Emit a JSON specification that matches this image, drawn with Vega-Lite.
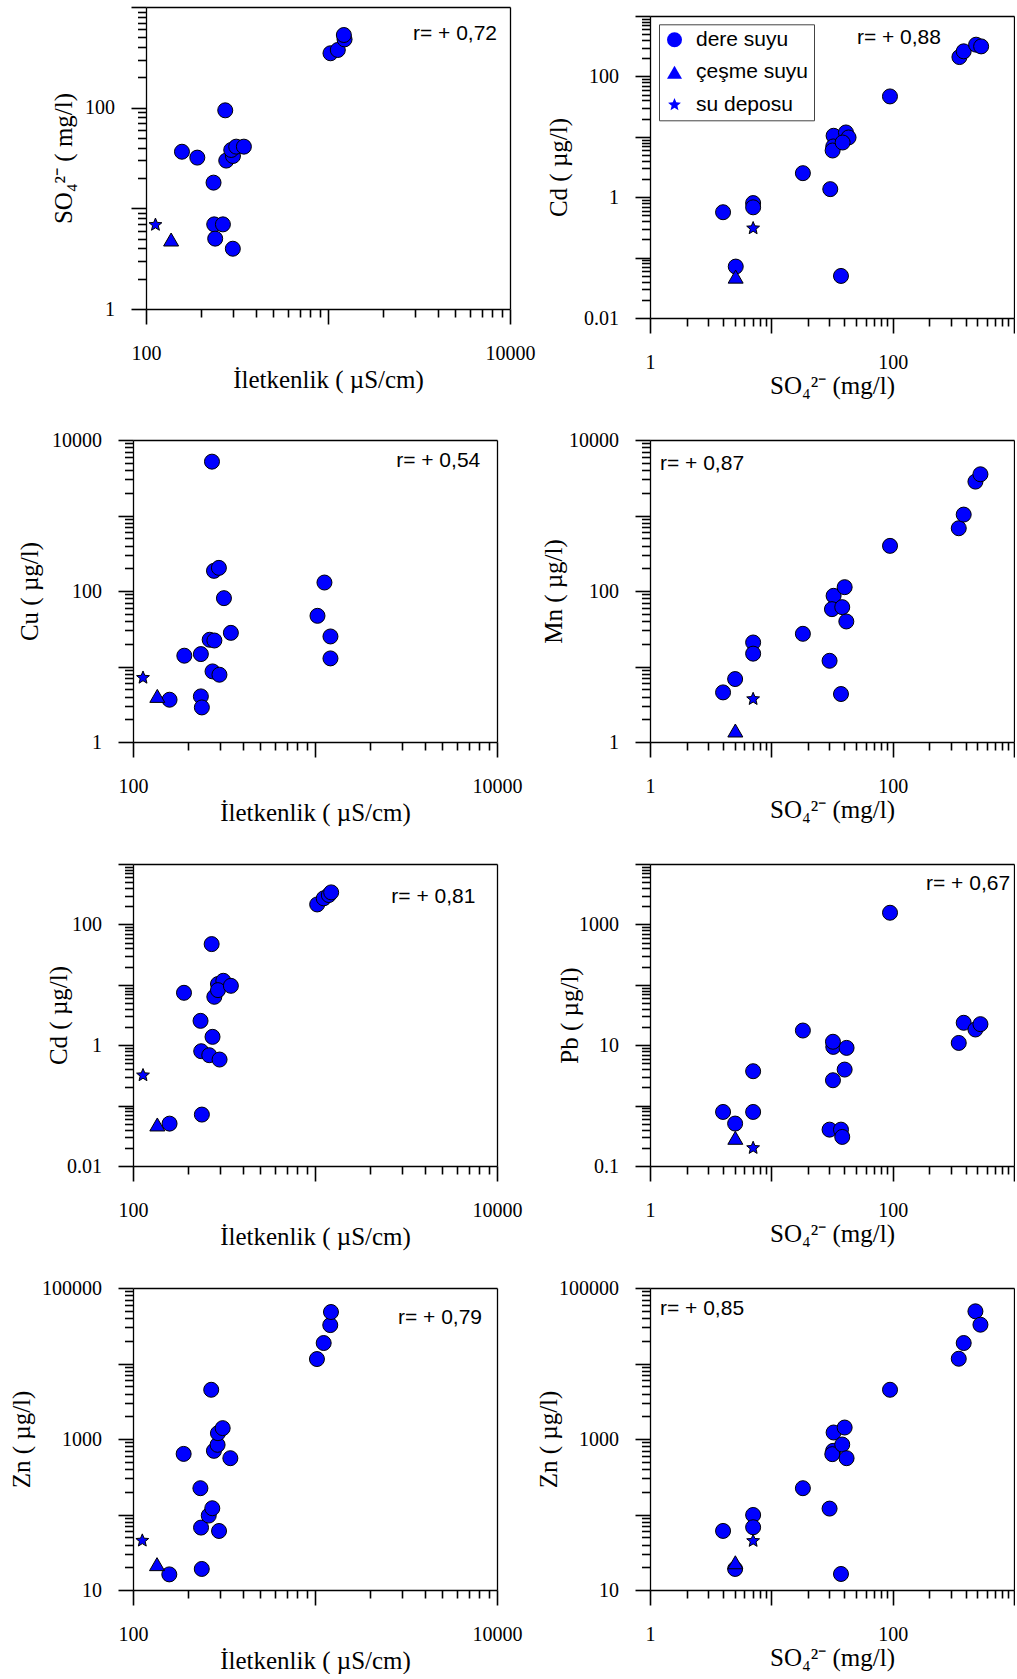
{
"$schema": "https://vega.github.io/schema/vega-lite/v6.json",
"background": "white",
"padding": {"left": 9, "top": 6, "right": 0, "bottom": 0},
"columns": 2,
"spacing": {"row": 122, "column": 140},
"bounds": "flush",
"align": "each",
"resolve": {"scale": {"shape": "independent"}, "legend": {"shape": "independent"}},
"config": {
 "view": {"stroke": null},
 "axis": {"grid": false, "domainColor": "black", "domainWidth": 1.3, "tickColor": "black", "tickWidth": 1.6, "labelFont": "Liberation Serif", "labelFontSize": 20, "labelColor": "black", "titleFont": "Liberation Serif", "titleFontSize": 25, "titleFontWeight": "normal", "titleColor": "black", "labelFlush": false, "labelOverlap": false}
},
"datasets": {
 "pts": [
  {"panel":1,"type":"dere suyu","x":157.6,"y":36.5},{"panel":1,"type":"dere suyu","x":191.4,"y":31.9},{"panel":1,"type":"dere suyu","x":235,"y":18.0},{"panel":1,"type":"dere suyu","x":272.5,"y":94.1},{"panel":1,"type":"dere suyu","x":237,"y":6.93},{"panel":1,"type":"dere suyu","x":264.6,"y":6.93},{"panel":1,"type":"dere suyu","x":240,"y":5.0},{"panel":1,"type":"dere suyu","x":300,"y":3.97},{"panel":1,"type":"dere suyu","x":276,"y":29.8},{"panel":1,"type":"dere suyu","x":300.5,"y":33.1},{"panel":1,"type":"dere suyu","x":294,"y":38.0},{"panel":1,"type":"dere suyu","x":313,"y":41.0},{"panel":1,"type":"dere suyu","x":345,"y":41.0},{"panel":1,"type":"dere suyu","x":1032,"y":347},{"panel":1,"type":"dere suyu","x":1132,"y":374},{"panel":1,"type":"dere suyu","x":1233,"y":477},{"panel":1,"type":"dere suyu","x":1222,"y":527},
  {"panel":1,"type":"çeşme suyu","x":137.4,"y":4.9},{"panel":1,"type":"su deposu","x":112.7,"y":6.86},
  {"panel":2,"type":"dere suyu","x":4.0,"y":0.564},{"panel":2,"type":"dere suyu","x":5.09,"y":0.071},{"panel":2,"type":"dere suyu","x":7.08,"y":0.80},{"panel":2,"type":"dere suyu","x":7.08,"y":0.68},{"panel":2,"type":"dere suyu","x":18.2,"y":2.5},{"panel":2,"type":"dere suyu","x":30.6,"y":1.36},{"panel":2,"type":"dere suyu","x":37.5,"y":0.0497},{"panel":2,"type":"dere suyu","x":32.6,"y":10.4},{"panel":2,"type":"dere suyu","x":41.2,"y":11.8},{"panel":2,"type":"dere suyu","x":43.3,"y":9.75},{"panel":2,"type":"dere suyu","x":32.4,"y":6.92},{"panel":2,"type":"dere suyu","x":32.0,"y":5.93},{"panel":2,"type":"dere suyu","x":38.7,"y":8.05},{"panel":2,"type":"dere suyu","x":95,"y":46.6},{"panel":2,"type":"dere suyu","x":355,"y":209},{"panel":2,"type":"dere suyu","x":385,"y":260},{"panel":2,"type":"dere suyu","x":487,"y":335},{"panel":2,"type":"dere suyu","x":536,"y":314},
  {"panel":2,"type":"çeşme suyu","x":5.08,"y":0.0484},{"panel":2,"type":"su deposu","x":7.08,"y":0.306},
  {"panel":3,"type":"dere suyu","x":158.8,"y":3.63},{"panel":3,"type":"dere suyu","x":191.4,"y":13.9},{"panel":3,"type":"dere suyu","x":236,"y":14.6},{"panel":3,"type":"dere suyu","x":236,"y":4.02},{"panel":3,"type":"dere suyu","x":239,"y":2.87},{"panel":3,"type":"dere suyu","x":271.6,"y":5168},{"panel":3,"type":"dere suyu","x":278.6,"y":184.9},{"panel":3,"type":"dere suyu","x":296.5,"y":202.5},{"panel":3,"type":"dere suyu","x":316,"y":80.4},{"panel":3,"type":"dere suyu","x":263.8,"y":22.6},{"panel":3,"type":"dere suyu","x":280,"y":22.1},{"panel":3,"type":"dere suyu","x":345,"y":27.9},{"panel":3,"type":"dere suyu","x":273.5,"y":8.61},{"panel":3,"type":"dere suyu","x":298.5,"y":7.78},{"panel":3,"type":"dere suyu","x":1032,"y":46.9},{"panel":3,"type":"dere suyu","x":1127,"y":129.5},{"panel":3,"type":"dere suyu","x":1216,"y":25.0},{"panel":3,"type":"dere suyu","x":1216,"y":12.8},
  {"panel":3,"type":"çeşme suyu","x":136,"y":4.08},{"panel":3,"type":"su deposu","x":113.5,"y":7.1},
  {"panel":4,"type":"dere suyu","x":4.0,"y":4.54},{"panel":4,"type":"dere suyu","x":5.03,"y":6.82},{"panel":4,"type":"dere suyu","x":7.08,"y":20.8},{"panel":4,"type":"dere suyu","x":7.08,"y":14.8},{"panel":4,"type":"dere suyu","x":18.2,"y":27.1},{"panel":4,"type":"dere suyu","x":30.2,"y":11.9},{"panel":4,"type":"dere suyu","x":37.5,"y":4.32},{"panel":4,"type":"dere suyu","x":32.6,"y":86.3},{"panel":4,"type":"dere suyu","x":31.6,"y":57.5},{"panel":4,"type":"dere suyu","x":38.4,"y":61.1},{"panel":4,"type":"dere suyu","x":40.2,"y":112.4},{"panel":4,"type":"dere suyu","x":41.5,"y":39.5},{"panel":4,"type":"dere suyu","x":95.1,"y":396},{"panel":4,"type":"dere suyu","x":350.5,"y":678},{"panel":4,"type":"dere suyu","x":385,"y":1028},{"panel":4,"type":"dere suyu","x":481,"y":2810},{"panel":4,"type":"dere suyu","x":529,"y":3515},
  {"panel":4,"type":"çeşme suyu","x":5.05,"y":1.42},{"panel":4,"type":"su deposu","x":7.08,"y":3.71},
  {"panel":5,"type":"dere suyu","x":158.8,"y":0.0503},{"panel":5,"type":"dere suyu","x":190.6,"y":7.37},{"panel":5,"type":"dere suyu","x":235,"y":2.53},{"panel":5,"type":"dere suyu","x":239,"y":0.071},{"panel":5,"type":"dere suyu","x":237,"y":0.795},{"panel":5,"type":"dere suyu","x":262.4,"y":0.683},{"panel":5,"type":"dere suyu","x":299,"y":0.579},{"panel":5,"type":"dere suyu","x":273.5,"y":1.375},{"panel":5,"type":"dere suyu","x":270.5,"y":47.2},{"panel":5,"type":"dere suyu","x":279.8,"y":6.33},{"panel":5,"type":"dere suyu","x":293,"y":10.3},{"panel":5,"type":"dere suyu","x":313.5,"y":11.65},{"panel":5,"type":"dere suyu","x":293,"y":8.16},{"panel":5,"type":"dere suyu","x":345,"y":9.62},{"panel":5,"type":"dere suyu","x":1028,"y":214},{"panel":5,"type":"dere suyu","x":1117,"y":270},{"panel":5,"type":"dere suyu","x":1191,"y":306},{"panel":5,"type":"dere suyu","x":1227,"y":339},
  {"panel":5,"type":"çeşme suyu","x":136,"y":0.0487},{"panel":5,"type":"su deposu","x":113.5,"y":0.318},
  {"panel":6,"type":"dere suyu","x":4.0,"y":0.785},{"panel":6,"type":"dere suyu","x":5.03,"y":0.504},{"panel":6,"type":"dere suyu","x":7.08,"y":3.71},{"panel":6,"type":"dere suyu","x":7.08,"y":0.785},{"panel":6,"type":"dere suyu","x":18.2,"y":17.5},{"panel":6,"type":"dere suyu","x":32.4,"y":9.38},{"panel":6,"type":"dere suyu","x":32.2,"y":11.4},{"panel":6,"type":"dere suyu","x":41.7,"y":9.03},{"panel":6,"type":"dere suyu","x":40.2,"y":3.95},{"panel":6,"type":"dere suyu","x":32.2,"y":2.63},{"panel":6,"type":"dere suyu","x":30.2,"y":0.40},{"panel":6,"type":"dere suyu","x":37.5,"y":0.40},{"panel":6,"type":"dere suyu","x":38.4,"y":0.303},{"panel":6,"type":"dere suyu","x":95.1,"y":1560},{"panel":6,"type":"dere suyu","x":350.5,"y":10.9},{"panel":6,"type":"dere suyu","x":385,"y":23.5},{"panel":6,"type":"dere suyu","x":481,"y":18.2},{"panel":6,"type":"dere suyu","x":529,"y":22.3},
  {"panel":6,"type":"çeşme suyu","x":5.05,"y":0.293},{"panel":6,"type":"su deposu","x":7.08,"y":0.199},
  {"panel":7,"type":"dere suyu","x":158.3,"y":16.1},{"panel":7,"type":"dere suyu","x":189.8,"y":635},{"panel":7,"type":"dere suyu","x":234.6,"y":223},{"panel":7,"type":"dere suyu","x":236.5,"y":67.1},{"panel":7,"type":"dere suyu","x":238.7,"y":19.0},{"panel":7,"type":"dere suyu","x":269,"y":4487},{"panel":7,"type":"dere suyu","x":260.7,"y":96.8},{"panel":7,"type":"dere suyu","x":272.7,"y":121},{"panel":7,"type":"dere suyu","x":297,"y":60.5},{"panel":7,"type":"dere suyu","x":278.4,"y":697},{"panel":7,"type":"dere suyu","x":291.6,"y":837},{"panel":7,"type":"dere suyu","x":292.9,"y":1194},{"panel":7,"type":"dere suyu","x":311,"y":1393},{"panel":7,"type":"dere suyu","x":342.7,"y":557},{"panel":7,"type":"dere suyu","x":1025,"y":11450},{"panel":7,"type":"dere suyu","x":1116,"y":18670},{"panel":7,"type":"dere suyu","x":1213,"y":32260},{"panel":7,"type":"dere suyu","x":1224,"y":48060},
  {"panel":7,"type":"çeşme suyu","x":135.5,"y":22.0},{"panel":7,"type":"su deposu","x":112.5,"y":45.1},
  {"panel":8,"type":"dere suyu","x":4.0,"y":60.6},{"panel":8,"type":"dere suyu","x":5.03,"y":19.0},{"panel":8,"type":"dere suyu","x":7.08,"y":98.6},{"panel":8,"type":"dere suyu","x":7.08,"y":67.8},{"panel":8,"type":"dere suyu","x":18.2,"y":223},{"panel":8,"type":"dere suyu","x":30.2,"y":119.7},{"panel":8,"type":"dere suyu","x":37.5,"y":16.3},{"panel":8,"type":"dere suyu","x":32.6,"y":1219},{"panel":8,"type":"dere suyu","x":32.3,"y":697},{"panel":8,"type":"dere suyu","x":31.8,"y":630},{"panel":8,"type":"dere suyu","x":38.4,"y":845},{"panel":8,"type":"dere suyu","x":40.2,"y":1419},{"panel":8,"type":"dere suyu","x":41.7,"y":557},{"panel":8,"type":"dere suyu","x":95.1,"y":4487},{"panel":8,"type":"dere suyu","x":350.5,"y":11560},{"panel":8,"type":"dere suyu","x":385,"y":18670},{"panel":8,"type":"dere suyu","x":481,"y":49100},{"panel":8,"type":"dere suyu","x":529,"y":32650},
  {"panel":8,"type":"çeşme suyu","x":5.05,"y":23.3},{"panel":8,"type":"su deposu","x":7.08,"y":44.7}
 ],
 "rtext": [
  {"panel":1,"r":"r= + 0,72"},{"panel":2,"r":"r= + 0,88"},{"panel":3,"r":"r= + 0,54"},{"panel":4,"r":"r= + 0,87"},
  {"panel":5,"r":"r= + 0,81"},{"panel":6,"r":"r= + 0,67"},{"panel":7,"r":"r= + 0,79"},{"panel":8,"r":"r= + 0,85"}
 ]
},
"concat": [
 {
  "width": 377, "height": 302,
  "layer": [
   {"data": {"name": "pts"}, "transform": [{"filter": "datum.panel == 1 && datum.type == 'dere suyu'"}],
    "mark": {"type": "point", "filled": true, "fill": "#0000ff", "stroke": "#000000", "strokeWidth": 1, "size": 225, "opacity": 1},
    "encoding": {
     "x": {"field": "x", "type": "quantitative", "scale": {"type": "log", "domain": [100, 10000], "range": [13, 377], "nice": false},
      "axis": {"orient": "bottom", "values": [100, 1000, 10000], "format": "~g", "labelExpr": "datum.value == 1000 ? '' : datum.label", "tickSize": 15, "labelPadding": 19.5, "title": "İletkenlik ( µS/cm)", "titlePadding": 4}},
     "y": {"field": "y", "type": "quantitative", "scale": {"type": "log", "domain": [1, 1000], "nice": false},
      "axis": {"orient": "left", "offset": -13, "values": [1, 10, 100, 1000], "format": "~g", "labelExpr": "datum.value == 1 || datum.value == 100 ? datum.label : ''", "labelFontSize": {"condition": {"test": "datum.value == 1 || datum.value == 100", "value": 20}, "value": 0}, "tickSize": 15, "labelPadding": 16.5, "title": "SO₄²⁻ ( mg/l)", "titlePadding": 7.7}},
     "shape": {"field": "type", "type": "nominal", "scale": {"domain": ["dere suyu", "çeşme suyu", "su deposu"], "range": ["circle", "triangle-up", "M0,-0.9L0.235,-0.324L0.856,-0.278L0.38,0.124L0.529,0.728L0,0.4L-0.529,0.728L-0.38,0.124L-0.856,-0.278L-0.235,-0.324Z"]}, "legend": null}
    }},
   {"data": {"name": "pts"}, "transform": [{"filter": "datum.panel == 1 && datum.type != 'dere suyu'"}],
    "mark": {"type": "point", "filled": true, "fill": "#0000ff", "stroke": "#000000", "strokeWidth": 1, "size": 225, "opacity": 1},
    "encoding": {
     "x": {"field": "x", "type": "quantitative", "scale": {"type": "log", "domain": [100, 10000], "range": [13, 377], "nice": false},
      "axis": {"orient": "bottom", "values": [200,300,400,500,600,700,800,900,2000,3000,4000,5000,6000,7000,8000,9000], "tickSize": 8, "labels": false, "domain": false, "title": null}},
     "y": {"field": "y", "type": "quantitative", "scale": {"type": "log", "domain": [1, 1000], "nice": false},
      "axis": {"orient": "left", "offset": -13, "values": [2,3,4,5,6,7,8,9,20,30,40,50,60,70,80,90,200,300,400,500,600,700,800,900], "tickSize": 8.5, "labels": false, "domain": false, "title": null}},
     "shape": {"field": "type", "type": "nominal", "scale": {"domain": ["dere suyu", "çeşme suyu", "su deposu"], "range": ["circle", "triangle-up", "M0,-0.9L0.235,-0.324L0.856,-0.278L0.38,0.124L0.529,0.728L0,0.4L-0.529,0.728L-0.38,0.124L-0.856,-0.278L-0.235,-0.324Z"]}, "legend": null}
    }},
   {"data": {"name": "rtext"}, "transform": [{"filter": "datum.panel == 1"}],
    "mark": {"type": "text", "font": "Liberation Sans", "fontSize": 21, "align": "right", "baseline": "alphabetic", "color": "black"},
    "encoding": {
     "x": {"datum": 8486, "type": "quantitative", "scale": {"type": "log", "domain": [100, 10000], "range": [13, 377], "nice": false}, "axis": {"orient": "top", "ticks": false, "labels": false, "domain": true, "title": null}},
     "y": {"datum": 475.5, "type": "quantitative", "scale": {"type": "log", "domain": [1, 1000], "nice": false}, "axis": {"orient": "right", "ticks": false, "labels": false, "domain": true, "title": null}},
     "text": {"field": "r"}
    }}
  ],
  "resolve": {"axis": {"x": "independent", "y": "independent"}}
 },
 {
  "width": 364, "height": 311,
  "layer": [
   {"data": {"name": "pts"}, "transform": [{"filter": "datum.panel == 2 && datum.type == 'dere suyu'"}],
    "mark": {"type": "point", "filled": true, "fill": "#0000ff", "stroke": "#000000", "strokeWidth": 1, "size": 225, "opacity": 1},
    "encoding": {
     "x": {"field": "x", "type": "quantitative", "scale": {"type": "log", "domain": [1, 1000], "nice": false},
      "axis": {"orient": "bottom", "values": [1, 10, 100, 1000], "format": "~g", "labelExpr": "datum.value == 1 || datum.value == 100 ? datum.label : ''", "tickSize": 15, "labelPadding": 19.5, "title": "SO₄²⁻ (mg/l)", "titlePadding": 1}},
     "y": {"field": "y", "type": "quantitative", "scale": {"type": "log", "domain": [0.01, 1000], "range": [311, 9], "nice": false},
      "axis": {"orient": "left", "values": [0.01, 0.1, 1, 10, 100, 1000], "format": "~g", "labelExpr": "datum.value == 0.01 || datum.value == 1 || datum.value == 100 ? datum.label : ''", "labelFontSize": {"condition": {"test": "datum.value == 0.01 || datum.value == 1 || datum.value == 100", "value": 20}, "value": 0}, "tickSize": 15, "labelPadding": 16.5, "title": "Cd ( µg/l)", "titlePadding": 12.3}},
     "shape": {"field": "type", "type": "nominal", "scale": {"domain": ["dere suyu", "çeşme suyu", "su deposu"], "range": ["circle", "triangle-up", "M0,-0.9L0.235,-0.324L0.856,-0.278L0.38,0.124L0.529,0.728L0,0.4L-0.529,0.728L-0.38,0.124L-0.856,-0.278L-0.235,-0.324Z"]},
      "legend": {"orient": "none", "legendX": 9, "legendY": 17.3, "title": null, "strokeColor": "#444444", "fillColor": "white", "padding": 5, "rowPadding": 10.5, "labelFont": "Liberation Sans", "labelFontSize": 21, "labelColor": "black", "labelOffset": 11, "symbolSize": 225, "symbolFillColor": "#0000ff", "symbolStrokeColor": "black", "symbolStrokeWidth": 1, "symbolOpacity": 1}}
    }},
   {"data": {"name": "pts"}, "transform": [{"filter": "datum.panel == 2 && datum.type != 'dere suyu'"}],
    "mark": {"type": "point", "filled": true, "fill": "#0000ff", "stroke": "#000000", "strokeWidth": 1, "size": 225, "opacity": 1},
    "encoding": {
     "x": {"field": "x", "type": "quantitative", "scale": {"type": "log", "domain": [1, 1000], "nice": false},
      "axis": {"orient": "bottom", "values": [2,3,4,5,6,7,8,9,20,30,40,50,60,70,80,90,200,300,400,500,600,700,800,900], "tickSize": 8, "labels": false, "domain": false, "title": null}},
     "y": {"field": "y", "type": "quantitative", "scale": {"type": "log", "domain": [0.01, 1000], "range": [311, 9], "nice": false},
      "axis": {"orient": "left", "values": [0.02,0.03,0.04,0.05,0.06,0.07,0.08,0.09,0.2,0.3,0.4,0.5,0.6,0.7,0.8,0.9,2,3,4,5,6,7,8,9,20,30,40,50,60,70,80,90,200,300,400,500,600,700,800,900], "tickSize": 8.5, "labels": false, "domain": false, "title": null}},
     "shape": {"field": "type", "type": "nominal", "scale": {"domain": ["dere suyu", "çeşme suyu", "su deposu"], "range": ["circle", "triangle-up", "M0,-0.9L0.235,-0.324L0.856,-0.278L0.38,0.124L0.529,0.728L0,0.4L-0.529,0.728L-0.38,0.124L-0.856,-0.278L-0.235,-0.324Z"]},
      "legend": {"orient": "none", "legendX": 9, "legendY": 17.3, "title": null, "strokeColor": "#444444", "fillColor": "white", "padding": 5, "rowPadding": 10.5, "labelFont": "Liberation Sans", "labelFontSize": 21, "labelColor": "black", "labelOffset": 11, "symbolSize": 225, "symbolFillColor": "#0000ff", "symbolStrokeColor": "black", "symbolStrokeWidth": 1, "symbolOpacity": 1}}
    }},
   {"data": {"name": "rtext"}, "transform": [{"filter": "datum.panel == 2"}],
    "mark": {"type": "text", "font": "Liberation Sans", "fontSize": 21, "align": "right", "baseline": "alphabetic", "color": "black"},
    "encoding": {
     "x": {"datum": 250, "type": "quantitative", "scale": {"type": "log", "domain": [1, 1000], "nice": false}, "axis": {"orient": "top", "offset": -9, "ticks": false, "labels": false, "domain": true, "title": null}},
     "y": {"datum": 344.7, "type": "quantitative", "scale": {"type": "log", "domain": [0.01, 1000], "range": [311, 9], "nice": false}, "axis": {"orient": "right", "ticks": false, "labels": false, "domain": true, "title": null}},
     "text": {"field": "r"}
    }}
  ],
  "resolve": {"axis": {"x": "independent", "y": "independent"}}
 },
 {
  "width": 364, "height": 302,
  "layer": [
   {"data": {"name": "pts"}, "transform": [{"filter": "datum.panel == 3 && datum.type == 'dere suyu'"}],
    "mark": {"type": "point", "filled": true, "fill": "#0000ff", "stroke": "#000000", "strokeWidth": 1, "size": 225, "opacity": 1},
    "encoding": {
     "x": {"field": "x", "type": "quantitative", "scale": {"type": "log", "domain": [100, 10000], "nice": false},
      "axis": {"orient": "bottom", "values": [100, 1000, 10000], "format": "~g", "labelExpr": "datum.value == 1000 ? '' : datum.label", "tickSize": 15, "labelPadding": 19.5, "title": "İletkenlik ( µS/cm)", "titlePadding": 4}},
     "y": {"field": "y", "type": "quantitative", "scale": {"type": "log", "domain": [1, 10000], "nice": false},
      "axis": {"orient": "left", "values": [1, 10, 100, 1000, 10000], "format": "~g", "labelExpr": "datum.value == 1 || datum.value == 100 || datum.value == 10000 ? datum.label : ''", "tickSize": 15, "labelPadding": 16.5, "title": "Cu ( µg/l)", "titlePadding": 8.6}},
     "shape": {"field": "type", "type": "nominal", "scale": {"domain": ["dere suyu", "çeşme suyu", "su deposu"], "range": ["circle", "triangle-up", "M0,-0.9L0.235,-0.324L0.856,-0.278L0.38,0.124L0.529,0.728L0,0.4L-0.529,0.728L-0.38,0.124L-0.856,-0.278L-0.235,-0.324Z"]}, "legend": null}
    }},
   {"data": {"name": "pts"}, "transform": [{"filter": "datum.panel == 3 && datum.type != 'dere suyu'"}],
    "mark": {"type": "point", "filled": true, "fill": "#0000ff", "stroke": "#000000", "strokeWidth": 1, "size": 225, "opacity": 1},
    "encoding": {
     "x": {"field": "x", "type": "quantitative", "scale": {"type": "log", "domain": [100, 10000], "nice": false},
      "axis": {"orient": "bottom", "values": [200,300,400,500,600,700,800,900,2000,3000,4000,5000,6000,7000,8000,9000], "tickSize": 8, "labels": false, "domain": false, "title": null}},
     "y": {"field": "y", "type": "quantitative", "scale": {"type": "log", "domain": [1, 10000], "nice": false},
      "axis": {"orient": "left", "values": [2,3,4,5,6,7,8,9,20,30,40,50,60,70,80,90,200,300,400,500,600,700,800,900,2000,3000,4000,5000,6000,7000,8000,9000], "tickSize": 8.5, "labels": false, "domain": false, "title": null}},
     "shape": {"field": "type", "type": "nominal", "scale": {"domain": ["dere suyu", "çeşme suyu", "su deposu"], "range": ["circle", "triangle-up", "M0,-0.9L0.235,-0.324L0.856,-0.278L0.38,0.124L0.529,0.728L0,0.4L-0.529,0.728L-0.38,0.124L-0.856,-0.278L-0.235,-0.324Z"]}, "legend": null}
    }},
   {"data": {"name": "rtext"}, "transform": [{"filter": "datum.panel == 3"}],
    "mark": {"type": "text", "font": "Liberation Sans", "fontSize": 21, "align": "right", "baseline": "alphabetic", "color": "black"},
    "encoding": {
     "x": {"datum": 8090, "type": "quantitative", "scale": {"type": "log", "domain": [100, 10000], "nice": false}, "axis": {"orient": "top", "ticks": false, "labels": false, "domain": true, "title": null}},
     "y": {"datum": 4422, "type": "quantitative", "scale": {"type": "log", "domain": [1, 10000], "nice": false}, "axis": {"orient": "right", "ticks": false, "labels": false, "domain": true, "title": null}},
     "text": {"field": "r"}
    }}
  ],
  "resolve": {"axis": {"x": "independent", "y": "independent"}}
 },
 {
  "width": 364, "height": 302,
  "layer": [
   {"data": {"name": "pts"}, "transform": [{"filter": "datum.panel == 4 && datum.type == 'dere suyu'"}],
    "mark": {"type": "point", "filled": true, "fill": "#0000ff", "stroke": "#000000", "strokeWidth": 1, "size": 225, "opacity": 1},
    "encoding": {
     "x": {"field": "x", "type": "quantitative", "scale": {"type": "log", "domain": [1, 1000], "nice": false},
      "axis": {"orient": "bottom", "values": [1, 10, 100, 1000], "format": "~g", "labelExpr": "datum.value == 1 || datum.value == 100 ? datum.label : ''", "tickSize": 15, "labelPadding": 19.5, "title": "SO₄²⁻ (mg/l)", "titlePadding": 1}},
     "y": {"field": "y", "type": "quantitative", "scale": {"type": "log", "domain": [1, 10000], "nice": false},
      "axis": {"orient": "left", "values": [1, 10, 100, 1000, 10000], "format": "~g", "labelExpr": "datum.value == 1 || datum.value == 100 || datum.value == 10000 ? datum.label : ''", "tickSize": 15, "labelPadding": 16.5, "title": "Mn ( µg/l)", "titlePadding": 2.3}},
     "shape": {"field": "type", "type": "nominal", "scale": {"domain": ["dere suyu", "çeşme suyu", "su deposu"], "range": ["circle", "triangle-up", "M0,-0.9L0.235,-0.324L0.856,-0.278L0.38,0.124L0.529,0.728L0,0.4L-0.529,0.728L-0.38,0.124L-0.856,-0.278L-0.235,-0.324Z"]}, "legend": null}
    }},
   {"data": {"name": "pts"}, "transform": [{"filter": "datum.panel == 4 && datum.type != 'dere suyu'"}],
    "mark": {"type": "point", "filled": true, "fill": "#0000ff", "stroke": "#000000", "strokeWidth": 1, "size": 225, "opacity": 1},
    "encoding": {
     "x": {"field": "x", "type": "quantitative", "scale": {"type": "log", "domain": [1, 1000], "nice": false},
      "axis": {"orient": "bottom", "values": [2,3,4,5,6,7,8,9,20,30,40,50,60,70,80,90,200,300,400,500,600,700,800,900], "tickSize": 8, "labels": false, "domain": false, "title": null}},
     "y": {"field": "y", "type": "quantitative", "scale": {"type": "log", "domain": [1, 10000], "nice": false},
      "axis": {"orient": "left", "values": [2,3,4,5,6,7,8,9,20,30,40,50,60,70,80,90,200,300,400,500,600,700,800,900,2000,3000,4000,5000,6000,7000,8000,9000], "tickSize": 8.5, "labels": false, "domain": false, "title": null}},
     "shape": {"field": "type", "type": "nominal", "scale": {"domain": ["dere suyu", "çeşme suyu", "su deposu"], "range": ["circle", "triangle-up", "M0,-0.9L0.235,-0.324L0.856,-0.278L0.38,0.124L0.529,0.728L0,0.4L-0.529,0.728L-0.38,0.124L-0.856,-0.278L-0.235,-0.324Z"]}, "legend": null}
    }},
   {"data": {"name": "rtext"}, "transform": [{"filter": "datum.panel == 4"}],
    "mark": {"type": "text", "font": "Liberation Sans", "fontSize": 21, "align": "left", "baseline": "alphabetic", "color": "black"},
    "encoding": {
     "x": {"datum": 1.209, "type": "quantitative", "scale": {"type": "log", "domain": [1, 1000], "nice": false}, "axis": {"orient": "top", "ticks": false, "labels": false, "domain": true, "title": null}},
     "y": {"datum": 3999, "type": "quantitative", "scale": {"type": "log", "domain": [1, 10000], "nice": false}, "axis": {"orient": "right", "ticks": false, "labels": false, "domain": true, "title": null}},
     "text": {"field": "r"}
    }}
  ],
  "resolve": {"axis": {"x": "independent", "y": "independent"}}
 },
 {
  "width": 364, "height": 302,
  "layer": [
   {"data": {"name": "pts"}, "transform": [{"filter": "datum.panel == 5 && datum.type == 'dere suyu'"}],
    "mark": {"type": "point", "filled": true, "fill": "#0000ff", "stroke": "#000000", "strokeWidth": 1, "size": 225, "opacity": 1},
    "encoding": {
     "x": {"field": "x", "type": "quantitative", "scale": {"type": "log", "domain": [100, 10000], "nice": false},
      "axis": {"orient": "bottom", "values": [100, 1000, 10000], "format": "~g", "labelExpr": "datum.value == 1000 ? '' : datum.label", "tickSize": 15, "labelPadding": 19.5, "title": "İletkenlik ( µS/cm)", "titlePadding": 4}},
     "y": {"field": "y", "type": "quantitative", "scale": {"type": "log", "domain": [0.01, 1000], "nice": false},
      "axis": {"orient": "left", "values": [0.01, 0.1, 1, 10, 100, 1000], "format": "~g", "labelExpr": "datum.value == 0.01 || datum.value == 1 || datum.value == 100 ? datum.label : ''", "tickSize": 15, "labelPadding": 16.5, "title": "Cd ( µg/l)", "titlePadding": -4.7}},
     "shape": {"field": "type", "type": "nominal", "scale": {"domain": ["dere suyu", "çeşme suyu", "su deposu"], "range": ["circle", "triangle-up", "M0,-0.9L0.235,-0.324L0.856,-0.278L0.38,0.124L0.529,0.728L0,0.4L-0.529,0.728L-0.38,0.124L-0.856,-0.278L-0.235,-0.324Z"]}, "legend": null}
    }},
   {"data": {"name": "pts"}, "transform": [{"filter": "datum.panel == 5 && datum.type != 'dere suyu'"}],
    "mark": {"type": "point", "filled": true, "fill": "#0000ff", "stroke": "#000000", "strokeWidth": 1, "size": 225, "opacity": 1},
    "encoding": {
     "x": {"field": "x", "type": "quantitative", "scale": {"type": "log", "domain": [100, 10000], "nice": false},
      "axis": {"orient": "bottom", "values": [200,300,400,500,600,700,800,900,2000,3000,4000,5000,6000,7000,8000,9000], "tickSize": 8, "labels": false, "domain": false, "title": null}},
     "y": {"field": "y", "type": "quantitative", "scale": {"type": "log", "domain": [0.01, 1000], "nice": false},
      "axis": {"orient": "left", "values": [0.02,0.03,0.04,0.05,0.06,0.07,0.08,0.09,0.2,0.3,0.4,0.5,0.6,0.7,0.8,0.9,2,3,4,5,6,7,8,9,20,30,40,50,60,70,80,90,200,300,400,500,600,700,800,900], "tickSize": 8.5, "labels": false, "domain": false, "title": null}},
     "shape": {"field": "type", "type": "nominal", "scale": {"domain": ["dere suyu", "çeşme suyu", "su deposu"], "range": ["circle", "triangle-up", "M0,-0.9L0.235,-0.324L0.856,-0.278L0.38,0.124L0.529,0.728L0,0.4L-0.529,0.728L-0.38,0.124L-0.856,-0.278L-0.235,-0.324Z"]}, "legend": null}
    }},
   {"data": {"name": "rtext"}, "transform": [{"filter": "datum.panel == 5"}],
    "mark": {"type": "text", "font": "Liberation Sans", "fontSize": 21, "align": "right", "baseline": "alphabetic", "color": "black"},
    "encoding": {
     "x": {"datum": 7604, "type": "quantitative", "scale": {"type": "log", "domain": [100, 10000], "nice": false}, "axis": {"orient": "top", "ticks": false, "labels": false, "domain": true, "title": null}},
     "y": {"datum": 222.4, "type": "quantitative", "scale": {"type": "log", "domain": [0.01, 1000], "nice": false}, "axis": {"orient": "right", "ticks": false, "labels": false, "domain": true, "title": null}},
     "text": {"field": "r"}
    }}
  ],
  "resolve": {"axis": {"x": "independent", "y": "independent"}}
 },
 {
  "width": 364, "height": 302,
  "layer": [
   {"data": {"name": "pts"}, "transform": [{"filter": "datum.panel == 6 && datum.type == 'dere suyu'"}],
    "mark": {"type": "point", "filled": true, "fill": "#0000ff", "stroke": "#000000", "strokeWidth": 1, "size": 225, "opacity": 1},
    "encoding": {
     "x": {"field": "x", "type": "quantitative", "scale": {"type": "log", "domain": [1, 1000], "nice": false},
      "axis": {"orient": "bottom", "values": [1, 10, 100, 1000], "format": "~g", "labelExpr": "datum.value == 1 || datum.value == 100 ? datum.label : ''", "tickSize": 15, "labelPadding": 19.5, "title": "SO₄²⁻ (mg/l)", "titlePadding": 1}},
     "y": {"field": "y", "type": "quantitative", "scale": {"type": "log", "domain": [0.1, 10000], "nice": false},
      "axis": {"orient": "left", "values": [0.1, 1, 10, 100, 1000, 10000], "format": "~g", "labelExpr": "datum.value == 0.1 || datum.value == 10 || datum.value == 1000 ? datum.label : ''", "tickSize": 15, "labelPadding": 16.5, "title": "Pb ( µg/l)", "titlePadding": -4.4}},
     "shape": {"field": "type", "type": "nominal", "scale": {"domain": ["dere suyu", "çeşme suyu", "su deposu"], "range": ["circle", "triangle-up", "M0,-0.9L0.235,-0.324L0.856,-0.278L0.38,0.124L0.529,0.728L0,0.4L-0.529,0.728L-0.38,0.124L-0.856,-0.278L-0.235,-0.324Z"]}, "legend": null}
    }},
   {"data": {"name": "pts"}, "transform": [{"filter": "datum.panel == 6 && datum.type != 'dere suyu'"}],
    "mark": {"type": "point", "filled": true, "fill": "#0000ff", "stroke": "#000000", "strokeWidth": 1, "size": 225, "opacity": 1},
    "encoding": {
     "x": {"field": "x", "type": "quantitative", "scale": {"type": "log", "domain": [1, 1000], "nice": false},
      "axis": {"orient": "bottom", "values": [2,3,4,5,6,7,8,9,20,30,40,50,60,70,80,90,200,300,400,500,600,700,800,900], "tickSize": 8, "labels": false, "domain": false, "title": null}},
     "y": {"field": "y", "type": "quantitative", "scale": {"type": "log", "domain": [0.1, 10000], "nice": false},
      "axis": {"orient": "left", "values": [0.2,0.3,0.4,0.5,0.6,0.7,0.8,0.9,2,3,4,5,6,7,8,9,20,30,40,50,60,70,80,90,200,300,400,500,600,700,800,900,2000,3000,4000,5000,6000,7000,8000,9000], "tickSize": 8.5, "labels": false, "domain": false, "title": null}},
     "shape": {"field": "type", "type": "nominal", "scale": {"domain": ["dere suyu", "çeşme suyu", "su deposu"], "range": ["circle", "triangle-up", "M0,-0.9L0.235,-0.324L0.856,-0.278L0.38,0.124L0.529,0.728L0,0.4L-0.529,0.728L-0.38,0.124L-0.856,-0.278L-0.235,-0.324Z"]}, "legend": null}
    }},
   {"data": {"name": "rtext"}, "transform": [{"filter": "datum.panel == 6"}],
    "mark": {"type": "text", "font": "Liberation Sans", "fontSize": 21, "align": "right", "baseline": "alphabetic", "color": "black"},
    "encoding": {
     "x": {"datum": 928.5, "type": "quantitative", "scale": {"type": "log", "domain": [1, 1000], "nice": false}, "axis": {"orient": "top", "ticks": false, "labels": false, "domain": true, "title": null}},
     "y": {"datum": 3707, "type": "quantitative", "scale": {"type": "log", "domain": [0.1, 10000], "nice": false}, "axis": {"orient": "right", "ticks": false, "labels": false, "domain": true, "title": null}},
     "text": {"field": "r"}
    }}
  ],
  "resolve": {"axis": {"x": "independent", "y": "independent"}}
 },
 {
  "width": 364, "height": 302,
  "layer": [
   {"data": {"name": "pts"}, "transform": [{"filter": "datum.panel == 7 && datum.type == 'dere suyu'"}],
    "mark": {"type": "point", "filled": true, "fill": "#0000ff", "stroke": "#000000", "strokeWidth": 1, "size": 225, "opacity": 1},
    "encoding": {
     "x": {"field": "x", "type": "quantitative", "scale": {"type": "log", "domain": [100, 10000], "nice": false},
      "axis": {"orient": "bottom", "values": [100, 1000, 10000], "format": "~g", "labelExpr": "datum.value == 1000 ? '' : datum.label", "tickSize": 15, "labelPadding": 19.5, "title": "İletkenlik ( µS/cm)", "titlePadding": 4}},
     "y": {"field": "y", "type": "quantitative", "scale": {"type": "log", "domain": [10, 100000], "nice": false},
      "axis": {"orient": "left", "values": [10, 100, 1000, 10000, 100000], "format": "~g", "labelExpr": "datum.value == 10 || datum.value == 1000 || datum.value == 100000 ? datum.label : ''", "tickSize": 15, "labelPadding": 16.5, "title": "Zn ( µg/l)", "titlePadding": 7.4}},
     "shape": {"field": "type", "type": "nominal", "scale": {"domain": ["dere suyu", "çeşme suyu", "su deposu"], "range": ["circle", "triangle-up", "M0,-0.9L0.235,-0.324L0.856,-0.278L0.38,0.124L0.529,0.728L0,0.4L-0.529,0.728L-0.38,0.124L-0.856,-0.278L-0.235,-0.324Z"]}, "legend": null}
    }},
   {"data": {"name": "pts"}, "transform": [{"filter": "datum.panel == 7 && datum.type != 'dere suyu'"}],
    "mark": {"type": "point", "filled": true, "fill": "#0000ff", "stroke": "#000000", "strokeWidth": 1, "size": 225, "opacity": 1},
    "encoding": {
     "x": {"field": "x", "type": "quantitative", "scale": {"type": "log", "domain": [100, 10000], "nice": false},
      "axis": {"orient": "bottom", "values": [200,300,400,500,600,700,800,900,2000,3000,4000,5000,6000,7000,8000,9000], "tickSize": 8, "labels": false, "domain": false, "title": null}},
     "y": {"field": "y", "type": "quantitative", "scale": {"type": "log", "domain": [10, 100000], "nice": false},
      "axis": {"orient": "left", "values": [20,30,40,50,60,70,80,90,200,300,400,500,600,700,800,900,2000,3000,4000,5000,6000,7000,8000,9000,20000,30000,40000,50000,60000,70000,80000,90000], "tickSize": 8.5, "labels": false, "domain": false, "title": null}},
     "shape": {"field": "type", "type": "nominal", "scale": {"domain": ["dere suyu", "çeşme suyu", "su deposu"], "range": ["circle", "triangle-up", "M0,-0.9L0.235,-0.324L0.856,-0.278L0.38,0.124L0.529,0.728L0,0.4L-0.529,0.728L-0.38,0.124L-0.856,-0.278L-0.235,-0.324Z"]}, "legend": null}
    }},
   {"data": {"name": "rtext"}, "transform": [{"filter": "datum.panel == 7"}],
    "mark": {"type": "text", "font": "Liberation Sans", "fontSize": 21, "align": "right", "baseline": "alphabetic", "color": "black"},
    "encoding": {
     "x": {"datum": 8272, "type": "quantitative", "scale": {"type": "log", "domain": [100, 10000], "nice": false}, "axis": {"orient": "top", "ticks": false, "labels": false, "domain": true, "title": null}},
     "y": {"datum": 33040, "type": "quantitative", "scale": {"type": "log", "domain": [10, 100000], "nice": false}, "axis": {"orient": "right", "ticks": false, "labels": false, "domain": true, "title": null}},
     "text": {"field": "r"}
    }}
  ],
  "resolve": {"axis": {"x": "independent", "y": "independent"}}
 },
 {
  "width": 364, "height": 302,
  "layer": [
   {"data": {"name": "pts"}, "transform": [{"filter": "datum.panel == 8 && datum.type == 'dere suyu'"}],
    "mark": {"type": "point", "filled": true, "fill": "#0000ff", "stroke": "#000000", "strokeWidth": 1, "size": 225, "opacity": 1},
    "encoding": {
     "x": {"field": "x", "type": "quantitative", "scale": {"type": "log", "domain": [1, 1000], "nice": false},
      "axis": {"orient": "bottom", "values": [1, 10, 100, 1000], "format": "~g", "labelExpr": "datum.value == 1 || datum.value == 100 ? datum.label : ''", "tickSize": 15, "labelPadding": 19.5, "title": "SO₄²⁻ (mg/l)", "titlePadding": 1}},
     "y": {"field": "y", "type": "quantitative", "scale": {"type": "log", "domain": [10, 100000], "nice": false},
      "axis": {"orient": "left", "values": [10, 100, 1000, 10000, 100000], "format": "~g", "labelExpr": "datum.value == 10 || datum.value == 1000 || datum.value == 100000 ? datum.label : ''", "tickSize": 15, "labelPadding": 16.5, "title": "Zn ( µg/l)", "titlePadding": -2.7}},
     "shape": {"field": "type", "type": "nominal", "scale": {"domain": ["dere suyu", "çeşme suyu", "su deposu"], "range": ["circle", "triangle-up", "M0,-0.9L0.235,-0.324L0.856,-0.278L0.38,0.124L0.529,0.728L0,0.4L-0.529,0.728L-0.38,0.124L-0.856,-0.278L-0.235,-0.324Z"]}, "legend": null}
    }},
   {"data": {"name": "pts"}, "transform": [{"filter": "datum.panel == 8 && datum.type != 'dere suyu'"}],
    "mark": {"type": "point", "filled": true, "fill": "#0000ff", "stroke": "#000000", "strokeWidth": 1, "size": 225, "opacity": 1},
    "encoding": {
     "x": {"field": "x", "type": "quantitative", "scale": {"type": "log", "domain": [1, 1000], "nice": false},
      "axis": {"orient": "bottom", "values": [2,3,4,5,6,7,8,9,20,30,40,50,60,70,80,90,200,300,400,500,600,700,800,900], "tickSize": 8, "labels": false, "domain": false, "title": null}},
     "y": {"field": "y", "type": "quantitative", "scale": {"type": "log", "domain": [10, 100000], "nice": false},
      "axis": {"orient": "left", "values": [20,30,40,50,60,70,80,90,200,300,400,500,600,700,800,900,2000,3000,4000,5000,6000,7000,8000,9000,20000,30000,40000,50000,60000,70000,80000,90000], "tickSize": 8.5, "labels": false, "domain": false, "title": null}},
     "shape": {"field": "type", "type": "nominal", "scale": {"domain": ["dere suyu", "çeşme suyu", "su deposu"], "range": ["circle", "triangle-up", "M0,-0.9L0.235,-0.324L0.856,-0.278L0.38,0.124L0.529,0.728L0,0.4L-0.529,0.728L-0.38,0.124L-0.856,-0.278L-0.235,-0.324Z"]}, "legend": null}
    }},
   {"data": {"name": "rtext"}, "transform": [{"filter": "datum.panel == 8"}],
    "mark": {"type": "text", "font": "Liberation Sans", "fontSize": 21, "align": "left", "baseline": "alphabetic", "color": "black"},
    "encoding": {
     "x": {"datum": 1.209, "type": "quantitative", "scale": {"type": "log", "domain": [1, 1000], "nice": false}, "axis": {"orient": "top", "ticks": false, "labels": false, "domain": true, "title": null}},
     "y": {"datum": 44360, "type": "quantitative", "scale": {"type": "log", "domain": [10, 100000], "nice": false}, "axis": {"orient": "right", "ticks": false, "labels": false, "domain": true, "title": null}},
     "text": {"field": "r"}
    }}
  ],
  "resolve": {"axis": {"x": "independent", "y": "independent"}}
 }
]
}
